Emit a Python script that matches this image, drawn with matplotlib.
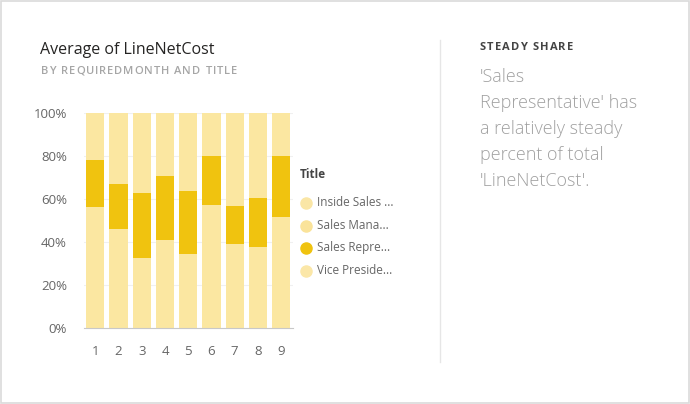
import numpy as np
import matplotlib.pyplot as plt
from matplotlib.patches import Rectangle
from matplotlib.lines import Line2D

months = ["1", "2", "3", "4", "5", "6", "7", "8", "9"]
series = ["Inside Sales ...", "Sales Mana...", "Sales Repre...", "Vice Preside..."]
inside_sales = [30.1, 24.5, 17.0, 22.3, 18.2, 31.0, 20.4, 19.8, 27.5]
sales_manager = [26.1, 21.8, 15.8, 18.8, 16.1, 26.4, 18.6, 18.1, 24.2]
sales_rep = [22.0, 20.8, 30.1, 29.5, 29.7, 22.9, 17.7, 22.5, 28.6]
vice_president = [21.8, 32.9, 37.1, 29.4, 36.0, 19.7, 43.3, 39.6, 19.7]
yticks = [0, 20, 40, 60, 80, 100]

light = "#FBE7A1"
dark = "#F0C30F"
colors = [light, light, dark, light]
legend_colors = ["#FAE6A6", "#FAE39A", "#F0C30F", "#FBE7A8"]

plt.rcParams['font.family'] = ['Open Sans', 'DejaVu Sans']

fig = plt.figure(figsize=(6.9, 4.04), dpi=100)
fig.patch.set_facecolor("white")
renderer = fig.canvas.get_renderer()


def spaced_text(x0, y, s, width, **kw):
    # lay characters out one by one so the line spans the given pixel width
    widths = []
    for ch in s:
        t = fig.text(0, 0, ch if ch != " " else "n", **kw)
        widths.append(t.get_window_extent(renderer).width * (0.5 if ch == " " else 1))
        t.remove()
    gap = (width - sum(widths)) / (len(s) - 1)
    xp = x0
    for ch, w in zip(s, widths):
        fig.text(xp / 690, y, ch, ha="left", va="center", **kw)
        xp += w + gap


# card border
fig.add_artist(Rectangle((0.002, 0.003), 0.996, 0.994, transform=fig.transFigure,
                         fill=False, edgecolor="#DADADA", linewidth=1.2))
# divider
fig.add_artist(Line2D([440 / 690, 440 / 690], [1 - 40 / 404, 1 - 362 / 404],
                      transform=fig.transFigure, color="#E6E6E6", linewidth=1))

ax = fig.add_axes([83.6 / 690, 1 - 328 / 404, 209.25 / 690, 214.7 / 404])

data = np.array([inside_sales, sales_manager, sales_rep, vice_president])
data = data / data.sum(axis=0) * 100
x = np.arange(len(months))
bottom = np.zeros(len(months))
for vals, c in zip(data, colors):
    ax.bar(x, vals, 0.79, bottom=bottom, color=c, linewidth=0, zorder=2)
    bottom += vals

ax.set_xlim(-0.5, len(months) - 0.5)
ax.set_ylim(0, 100)
ax.set_yticks(yticks)
ax.set_yticklabels([f"{v}%" for v in yticks])
ax.set_xticks(x)
ax.set_xticklabels(months)
ax.tick_params(length=0, labelsize=9.5, colors="#666666")
ax.tick_params(axis="x", pad=12)
ax.tick_params(axis="y", pad=12)
ax.grid(axis="y", color="#F0F0F0", linewidth=0.8, zorder=0)
for s in ["top", "right", "left"]:
    ax.spines[s].set_visible(False)
ax.spines["bottom"].set_color("#C8C8C8")

fig.text(40 / 690, 1 - 50 / 404, "Average of LineNetCost", fontsize=11.5,
         color="#252423", va="center", ha="left", fontweight="medium")
spaced_text(41, 1 - 71 / 404, "BY REQUIREDMONTH AND TITLE", 196,
            fontsize=8, color="#A6A6A6", fontweight="semibold")

# legend
fig.text(300 / 690, 1 - 175 / 404, "Title", fontsize=8.5, color="#444444",
         va="center", ha="left", fontweight="bold")
for i, (name, c) in enumerate(zip(series, legend_colors)):
    yy = 1 - (203 + i * 22.5) / 404
    fig.add_artist(Line2D([306 / 690], [yy], marker="o", markersize=8,
                          color=c, transform=fig.transFigure, linestyle=""))
    fig.text(317 / 690, yy, name, fontsize=8.5, color="#666666",
             va="center", ha="left")

spaced_text(480, 1 - 47 / 404, "STEADY SHARE", 93,
            fontsize=8, color="#444444", fontweight="bold")
body = ["'Sales", "Representative' has", "a relatively steady",
        "percent of total", "'LineNetCost'."]
for i, line in enumerate(body):
    fig.text(480 / 690, 1 - (77 + i * 26) / 404, line, fontsize=13,
             color="#A0A0A0", va="center", ha="left", fontweight="light")

fig.savefig("out.png", dpi=100, facecolor="white")
